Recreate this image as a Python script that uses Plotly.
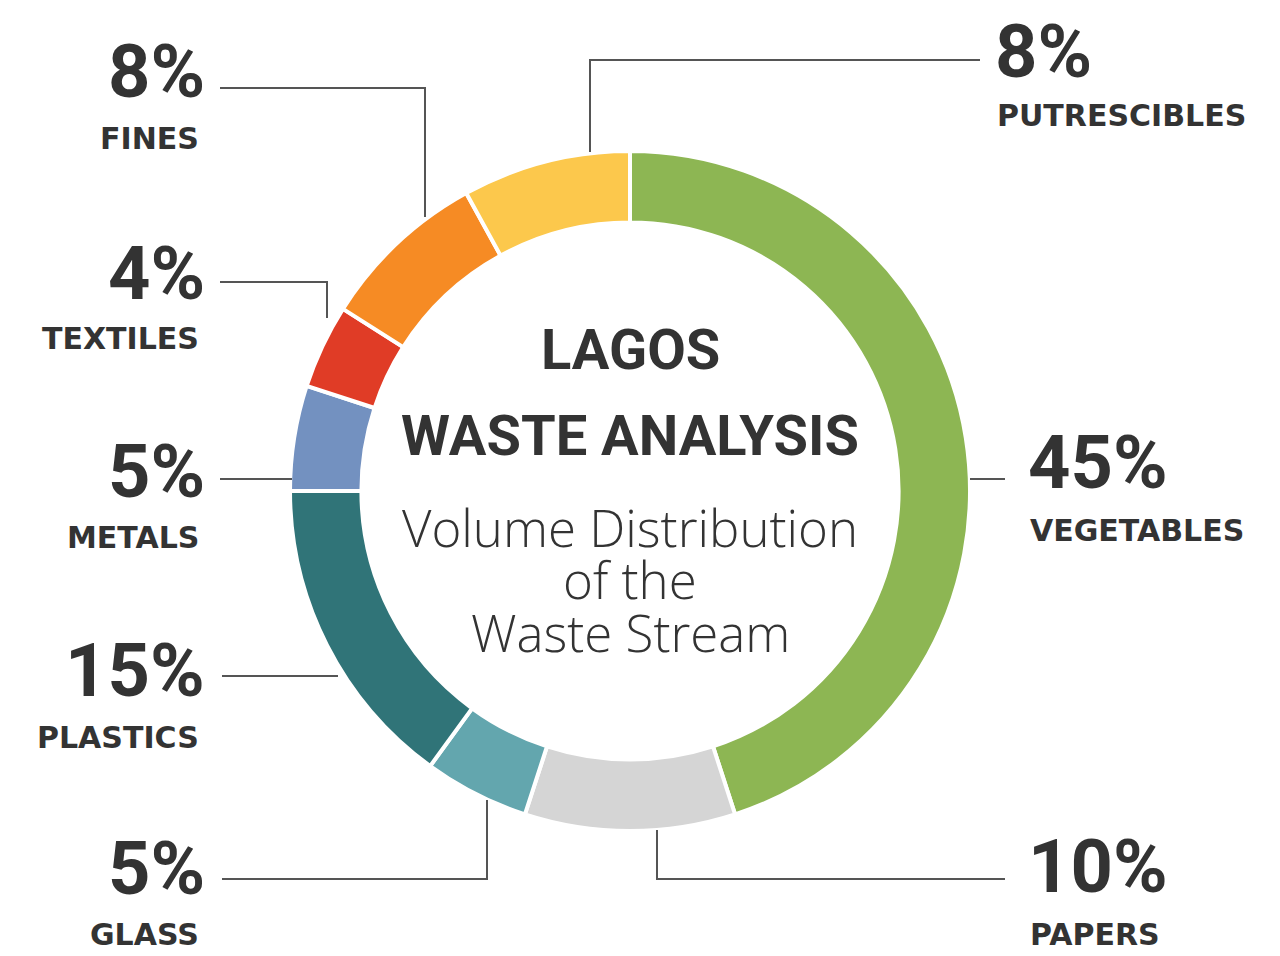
import plotly.graph_objects as go

# waste stream shares, clockwise from 12 o'clock
categories = ["VEGETABLES", "PAPERS", "GLASS", "PLASTICS", "METALS", "TEXTILES", "FINES", "PUTRESCIBLES"]
shares = [45, 10, 5, 15, 5, 4, 8, 8]
pct_labels = ["45%", "10%", "5%", "15%", "5%", "4%", "8%", "8%"]
colors = ["#8db653", "#d5d5d5", "#63a6ae", "#307478", "#7391c0", "#e03c26", "#f68b24", "#fcc84c"]

W, H = 1280, 956
PAGE_OFF = 8  # default body margin of the html page


def px(x):
    return (x - PAGE_OFF) / W


def py(y):
    return 1 - (y - PAGE_OFF) / H


# circle centre and radius in pixels
cx, cy, r = 630, 491, 340

# label placement: side, anchor x, percent y, name y, leader path (pixels)
placement = {
    "VEGETABLES": ("right", 1026, 462, 530, [(1005, 479), (970, 479)]),
    "PAPERS": ("right", 1026, 866, 934, [(1005, 879), (657, 879), (657, 830)]),
    "GLASS": ("left", 207, 868, 934, [(222, 879), (487, 879), (487, 800)]),
    "PLASTICS": ("left", 207, 670, 737, [(222, 676), (338, 676)]),
    "METALS": ("left", 207, 472, 537, [(220, 479), (292, 479)]),
    "TEXTILES": ("left", 207, 274, 338, [(220, 282), (327, 282), (327, 318)]),
    "FINES": ("left", 207, 72, 138, [(220, 88), (425, 88), (425, 217)]),
    "PUTRESCIBLES": ("right", 993, 52, 115, [(980, 60), (590, 60), (590, 152)]),
}

big_font = "Roboto, Liberation Sans, sans-serif"
lab_font = "DejaVu Sans, sans-serif"
sub_font = "Open Sans, Lato, sans-serif"
ink = "#333333"

fig = go.Figure(go.Pie(
    labels=categories,
    values=shares,
    sort=False,
    direction="clockwise",
    rotation=0,
    hole=0.79,
    marker=dict(colors=colors, line=dict(color="white", width=4)),
    textinfo="none",
    hoverinfo="skip",
    showlegend=False,
    domain=dict(x=[px(cx - r), px(cx + r)], y=[py(cy + r), py(cy - r)]),
))

annotations = []
shapes = []
for cat, pct in zip(categories, pct_labels):
    side, ax, pct_y, name_y, path = placement[cat]
    anchor = "right" if side == "left" else "left"
    annotations.append(dict(
        text="<b>%s</b>" % pct, x=px(ax), y=py(pct_y), xref="paper", yref="paper",
        xanchor=anchor, yanchor="middle", showarrow=False,
        font=dict(family=big_font, size=74, color=ink),
    ))
    annotations.append(dict(
        text="<b>%s</b>" % cat, x=px(ax - 6 if side == "left" else ax + 2), y=py(name_y),
        xref="paper", yref="paper", xanchor=anchor, yanchor="middle", showarrow=False,
        font=dict(family=lab_font, size=30, color=ink),
    ))
    d = "M" + " L".join("%f,%f" % (px(x), py(y)) for x, y in path)
    shapes.append(dict(type="path", path=d, xref="paper", yref="paper",
                       line=dict(color="#555555", width=2)))

# centre title
center_lines = [
    ("<b>LAGOS</b>", 350, big_font, 56, None),
    ("<b>WASTE ANALYSIS</b>", 436, big_font, 56, None),
    ("Volume Distribution", 527, sub_font, 51, 300),
    ("of the", 579, sub_font, 51, 300),
    ("Waste Stream", 632, sub_font, 51, 300),
]
for txt, y, fam, size, weight in center_lines:
    f = dict(family=fam, size=size, color=ink)
    if weight:
        f["weight"] = weight
    annotations.append(dict(
        text=txt, x=px(cx), y=py(y), xref="paper", yref="paper",
        xanchor="center", yanchor="middle", showarrow=False, font=f,
    ))

fig.update_layout(
    width=W, height=H,
    margin=dict(l=0, r=0, t=0, b=0),
    paper_bgcolor="white",
    plot_bgcolor="white",
    annotations=annotations,
    shapes=shapes,
)

fig.write_html("out.html")
